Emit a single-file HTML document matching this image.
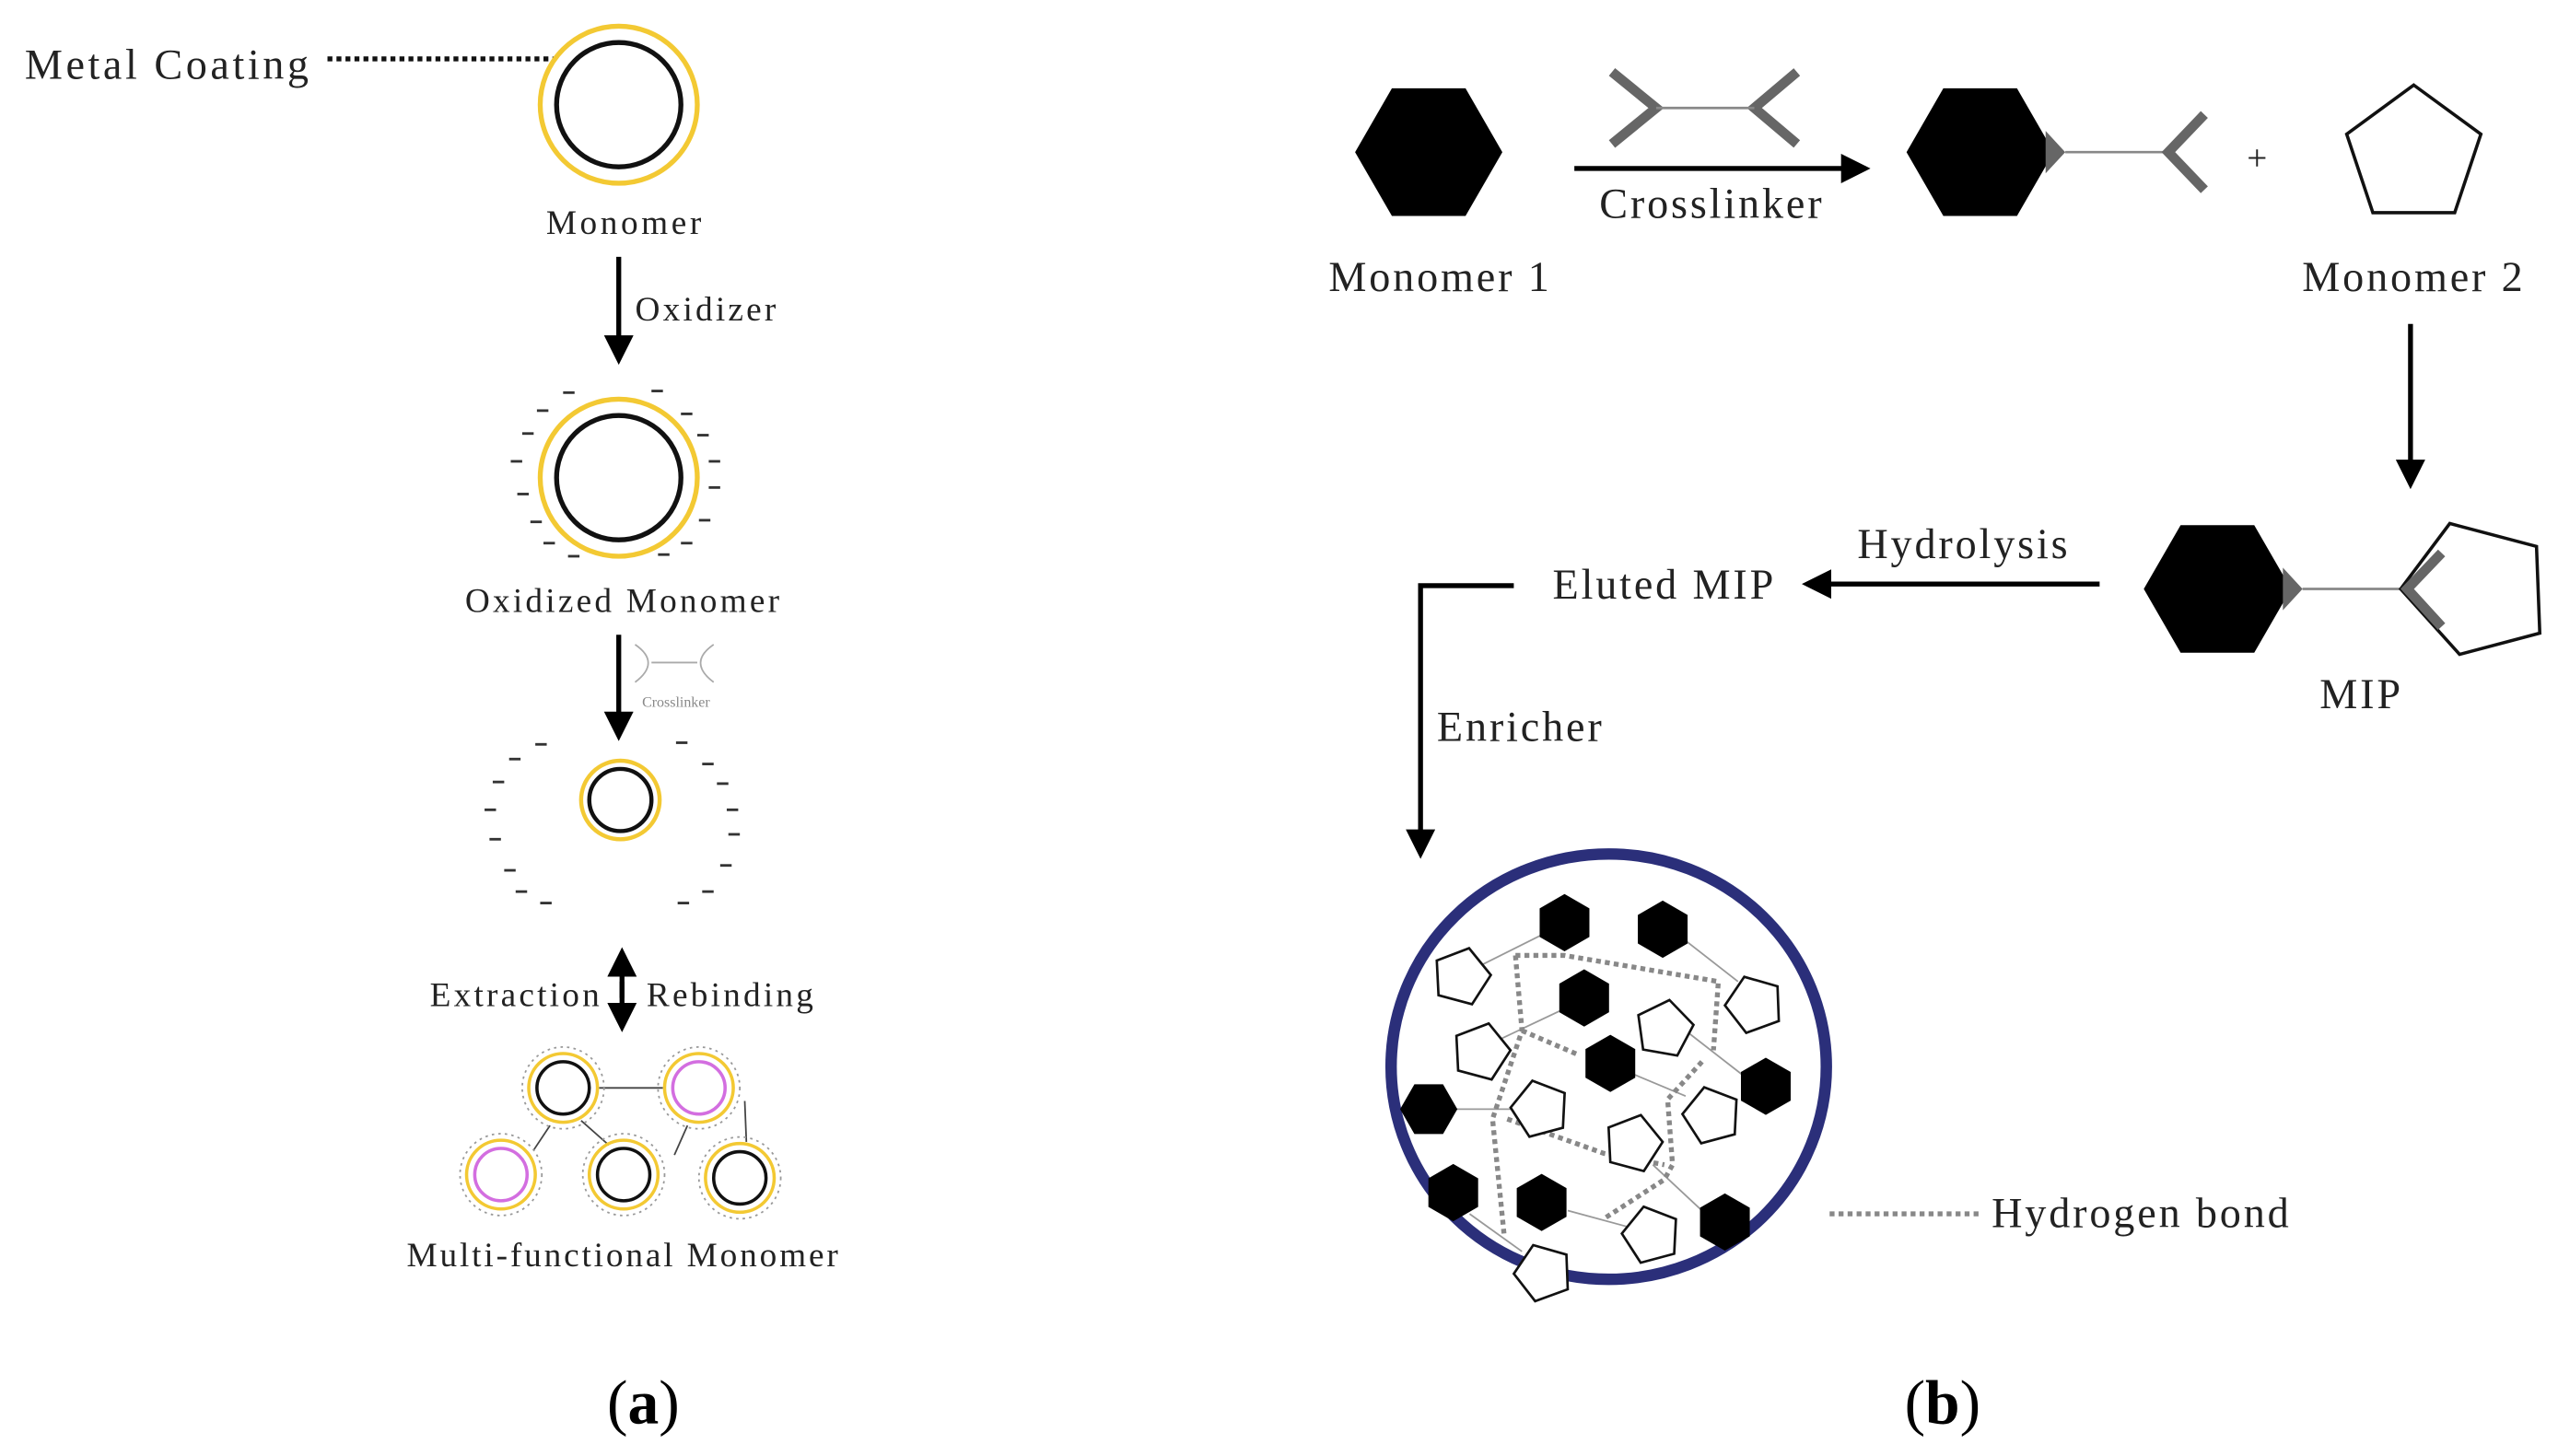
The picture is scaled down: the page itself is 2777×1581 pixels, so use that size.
<!DOCTYPE html>
<html><head><meta charset="utf-8"><style>
html,body{margin:0;padding:0;background:#fff;}
svg{display:block;}
text{font-family:"Liberation Serif",serif;fill:#222;letter-spacing:1.6px;}
</style></head><body>
<svg width="2777" height="1581" viewBox="0 0 1563 890" xmlns="http://www.w3.org/2000/svg">
<defs>
<marker id="ah" markerWidth="6" markerHeight="6" refX="5" refY="3" orient="auto" markerUnits="strokeWidth"><path d="M0,0 L6,3 L0,6 z" fill="#000"/></marker>
<polygon id="hx" points="17.5,0 8.75,15.2 -8.75,15.2 -17.5,0 -8.75,-15.2 8.75,-15.2" fill="#000"/>
<polygon id="pt" points="0,-18 17.1,-5.6 10.6,14.6 -10.6,14.6 -17.1,-5.6" fill="#fff" stroke="#111" stroke-width="1.5"/>
</defs>
<rect width="1563" height="890" fill="#fff"/>

<!-- LEFT PANEL -->
<text x="15" y="48" font-size="26" style="letter-spacing:2px">Metal Coating</text>
<line x1="200" y1="36" x2="338" y2="36" stroke="#111" stroke-width="3" stroke-dasharray="3,2.5"/>
<circle cx="378" cy="64" r="48" fill="none" stroke="#f3c933" stroke-width="3"/>
<circle cx="378" cy="64" r="38" fill="none" stroke="#111" stroke-width="3"/>
<text x="382" y="143" font-size="21" text-anchor="middle" style="letter-spacing:2px">Monomer</text>
<line x1="378" y1="157" x2="378" y2="220" stroke="#000" stroke-width="3" marker-end="url(#ah)"/>
<text x="388" y="196" font-size="21" style="letter-spacing:1.8px">Oxidizer</text>

<circle cx="378" cy="292" r="48" fill="none" stroke="#f3c933" stroke-width="3"/>
<circle cx="378" cy="292" r="38" fill="none" stroke="#111" stroke-width="3"/>
<g stroke="#333" stroke-width="1.6">
<line x1="344" y1="240" x2="351" y2="240"/><line x1="398" y1="239" x2="405" y2="239"/>
<line x1="328" y1="251" x2="335" y2="251"/><line x1="416" y1="253" x2="423" y2="253"/>
<line x1="319" y1="265" x2="326" y2="265"/><line x1="426" y1="266" x2="433" y2="266"/>
<line x1="312" y1="282" x2="319" y2="282"/><line x1="433" y1="282" x2="440" y2="282"/>
<line x1="316" y1="302" x2="323" y2="302"/><line x1="433" y1="298" x2="440" y2="298"/>
<line x1="324" y1="319" x2="331" y2="319"/><line x1="427" y1="318" x2="434" y2="318"/>
<line x1="332" y1="332" x2="339" y2="332"/><line x1="416" y1="332" x2="423" y2="332"/>
<line x1="347" y1="340" x2="354" y2="340"/><line x1="402" y1="339" x2="409" y2="339"/>
</g>
<text x="381" y="374" font-size="21" text-anchor="middle" style="letter-spacing:1.8px">Oxidized Monomer</text>
<line x1="378" y1="388" x2="378" y2="450" stroke="#000" stroke-width="3" marker-end="url(#ah)"/>
<g stroke="#aaa" stroke-width="1" fill="none">
<path d="M388,394 Q404,405 388,417"/><path d="M436,394 Q420,405 436,417"/>
<line x1="398" y1="405" x2="426" y2="405"/>
</g>
<text x="413" y="432" font-size="9" text-anchor="middle" style="fill:#888;letter-spacing:0">Crosslinker</text>

<circle cx="379" cy="489" r="24" fill="none" stroke="#f3c933" stroke-width="2.5"/>
<circle cx="379" cy="489" r="19" fill="none" stroke="#111" stroke-width="2.5"/>
<g stroke="#333" stroke-width="1.6">
<line x1="327" y1="455" x2="334" y2="455"/><line x1="413" y1="454" x2="420" y2="454"/>
<line x1="311" y1="464" x2="318" y2="464"/><line x1="429" y1="467" x2="436" y2="467"/>
<line x1="301" y1="478" x2="308" y2="478"/><line x1="438" y1="479" x2="445" y2="479"/>
<line x1="296" y1="495" x2="303" y2="495"/><line x1="444" y1="495" x2="451" y2="495"/>
<line x1="299" y1="513" x2="306" y2="513"/><line x1="445" y1="510" x2="452" y2="510"/>
<line x1="308" y1="532" x2="315" y2="532"/><line x1="440" y1="529" x2="447" y2="529"/>
<line x1="315" y1="545" x2="322" y2="545"/><line x1="429" y1="545" x2="436" y2="545"/>
<line x1="330" y1="552" x2="337" y2="552"/><line x1="414" y1="552" x2="421" y2="552"/>
</g>
<line x1="380" y1="600" x2="380" y2="628" stroke="#000" stroke-width="3" marker-end="url(#ah)"/>
<line x1="380" y1="610" x2="380" y2="582" stroke="#000" stroke-width="3" marker-end="url(#ah)"/>
<text x="368" y="615" font-size="21" text-anchor="end" style="letter-spacing:1.8px">Extraction</text>
<text x="395" y="615" font-size="21" style="letter-spacing:1.8px">Rebinding</text>

<g stroke="#444" stroke-width="1">
<line x1="366" y1="665" x2="405" y2="665"/><line x1="336" y1="688" x2="326" y2="703"/>
<line x1="355" y1="685" x2="372" y2="700"/><line x1="420" y1="688" x2="412" y2="706"/>
<line x1="455" y1="673" x2="456" y2="698"/>
</g>
<g fill="none">
<g stroke="#f3c933" stroke-width="2"><circle cx="344" cy="665" r="21"/><circle cx="427" cy="665" r="21"/><circle cx="306" cy="718" r="21"/><circle cx="381" cy="718" r="21"/><circle cx="452" cy="720" r="21"/></g>
<g stroke="#999" stroke-width="1" stroke-dasharray="1.5,2.5"><circle cx="344" cy="665" r="25"/><circle cx="427" cy="665" r="25"/><circle cx="306" cy="718" r="25"/><circle cx="381" cy="718" r="25"/><circle cx="452" cy="720" r="25"/></g>
<g stroke="#111" stroke-width="2"><circle cx="344" cy="665" r="16"/><circle cx="381" cy="718" r="16"/><circle cx="452" cy="720" r="16"/></g>
<g stroke="#d36ee0" stroke-width="2"><circle cx="427" cy="665" r="16"/><circle cx="306" cy="718" r="16"/></g>
</g>
<text x="381" y="774" font-size="21" text-anchor="middle" style="letter-spacing:1.6px">Multi-functional Monomer</text>
<text x="393" y="870" font-size="38" text-anchor="middle" style="fill:#000;letter-spacing:0">(<tspan font-weight="bold">a</tspan>)</text>

<!-- RIGHT PANEL -->
<polygon points="918,93 895.5,132 850.5,132 828,93 850.5,54 895.5,54" fill="#000"/>
<g stroke="#666" stroke-width="6" fill="none">
<polyline points="985,44 1012,66 985,88"/><polyline points="1098,44 1072,66 1098,88"/>
</g>
<line x1="1012" y1="66" x2="1072" y2="66" stroke="#888" stroke-width="1.5"/>
<line x1="962" y1="103" x2="1140" y2="103" stroke="#000" stroke-width="3" marker-end="url(#ah)"/>
<text x="1046" y="133" font-size="26" text-anchor="middle">Crosslinker</text>
<text x="880" y="178" font-size="26" text-anchor="middle">Monomer 1</text>

<polygon points="1255,93 1232.5,132 1187.5,132 1165,93 1187.5,54 1232.5,54" fill="#000"/>
<polygon points="1250,80 1262,93 1250,106" fill="#666"/>
<line x1="1262" y1="93" x2="1325" y2="93" stroke="#888" stroke-width="1.5"/>
<polyline points="1347,70 1325,93 1347,116" stroke="#666" stroke-width="6" fill="none"/>
<text x="1380" y="104" font-size="22" text-anchor="middle">+</text>
<polygon points="1475,52 1516,82 1500,130 1450,130 1434,82" fill="#fff" stroke="#111" stroke-width="2"/>
<text x="1475" y="178" font-size="26" text-anchor="middle">Monomer 2</text>
<line x1="1473" y1="198" x2="1473" y2="296" stroke="#000" stroke-width="3" marker-end="url(#ah)"/>

<polygon points="1400,360 1377.5,399 1332.5,399 1310,360 1332.5,321 1377.5,321" fill="#000"/>
<polygon points="1395,347 1407,360 1395,373" fill="#666"/>
<line x1="1407" y1="360" x2="1470" y2="360" stroke="#888" stroke-width="1.5"/>
<polygon points="1467,360 1497,320 1550,334 1552,387 1503,400" fill="#fff" stroke="#111" stroke-width="2"/>
<polyline points="1492,338 1471,360 1492,383" stroke="#666" stroke-width="6" fill="none"/>
<text x="1443" y="433" font-size="26" text-anchor="middle">MIP</text>

<line x1="1283" y1="357" x2="1104" y2="357" stroke="#000" stroke-width="3" marker-end="url(#ah)"/>
<text x="1200" y="341" font-size="26" text-anchor="middle">Hydrolysis</text>
<text x="1017" y="366" font-size="26" text-anchor="middle">Eluted MIP</text>
<polyline points="925,358 868,358 868,522" stroke="#000" stroke-width="3" fill="none" marker-end="url(#ah)"/>
<text x="878" y="453" font-size="26">Enricher</text>

<ellipse cx="983" cy="652" rx="133" ry="130" fill="#fff" stroke="#2b2f7a" stroke-width="7"/>
<g stroke="#999" stroke-width="1">
<line x1="941" y1="572" x2="905" y2="590"/><line x1="1030" y1="575" x2="1062" y2="600"/>
<line x1="953" y1="618" x2="915" y2="636"/><line x1="999" y1="657" x2="1030" y2="670"/>
<line x1="890" y1="678" x2="925" y2="678"/><line x1="1066" y1="658" x2="1030" y2="630"/>
<line x1="898" y1="742" x2="930" y2="765"/><line x1="958" y1="740" x2="995" y2="750"/>
<line x1="1040" y1="740" x2="1010" y2="712"/>
</g>
<g stroke="#888" stroke-width="3" fill="none" stroke-dasharray="3,2.5">
<polyline points="926,584 956,584 1050,600 1047,642"/>
<polyline points="926,584 930,630 912,684 919,754"/>
<polyline points="930,630 965,645"/>
<polyline points="921,684 980,705 1017,712"/>
<polyline points="1040,649 1019,672 1022,712 1017,721 980,745"/>
</g>
<use href="#pt" transform="translate(893,597) rotate(15)"/>
<use href="#pt" transform="translate(905,643) rotate(15)"/>
<use href="#pt" transform="translate(941,678) rotate(-15)"/>
<use href="#pt" transform="translate(1017,629) rotate(10)"/>
<use href="#pt" transform="translate(1072,614) rotate(-20)"/>
<use href="#pt" transform="translate(1046,682) rotate(-15)"/>
<use href="#pt" transform="translate(998,699) rotate(15)"/>
<use href="#pt" transform="translate(1009,755) rotate(-15)"/>
<use href="#pt" transform="translate(943,778) rotate(-20)"/>
<use href="#hx" transform="translate(956,564) rotate(90)"/>
<use href="#hx" transform="translate(1016,568) rotate(90)"/>
<use href="#hx" transform="translate(968,610) rotate(90)"/>
<use href="#hx" transform="translate(984,650) rotate(90)"/>
<use href="#hx" transform="translate(873,678)"/>
<use href="#hx" transform="translate(888,729) rotate(90)"/>
<use href="#hx" transform="translate(942,735) rotate(90)"/>
<use href="#hx" transform="translate(1054,747) rotate(90)"/>
<use href="#hx" transform="translate(1079,664) rotate(90)"/>

<line x1="1118" y1="742" x2="1210" y2="742" stroke="#888" stroke-width="3" stroke-dasharray="3,2.5"/>
<text x="1217" y="750" font-size="26">Hydrogen bond</text>
<text x="1187" y="870" font-size="38" text-anchor="middle" style="fill:#000;letter-spacing:0">(<tspan font-weight="bold">b</tspan>)</text>
</svg>
</body></html>
